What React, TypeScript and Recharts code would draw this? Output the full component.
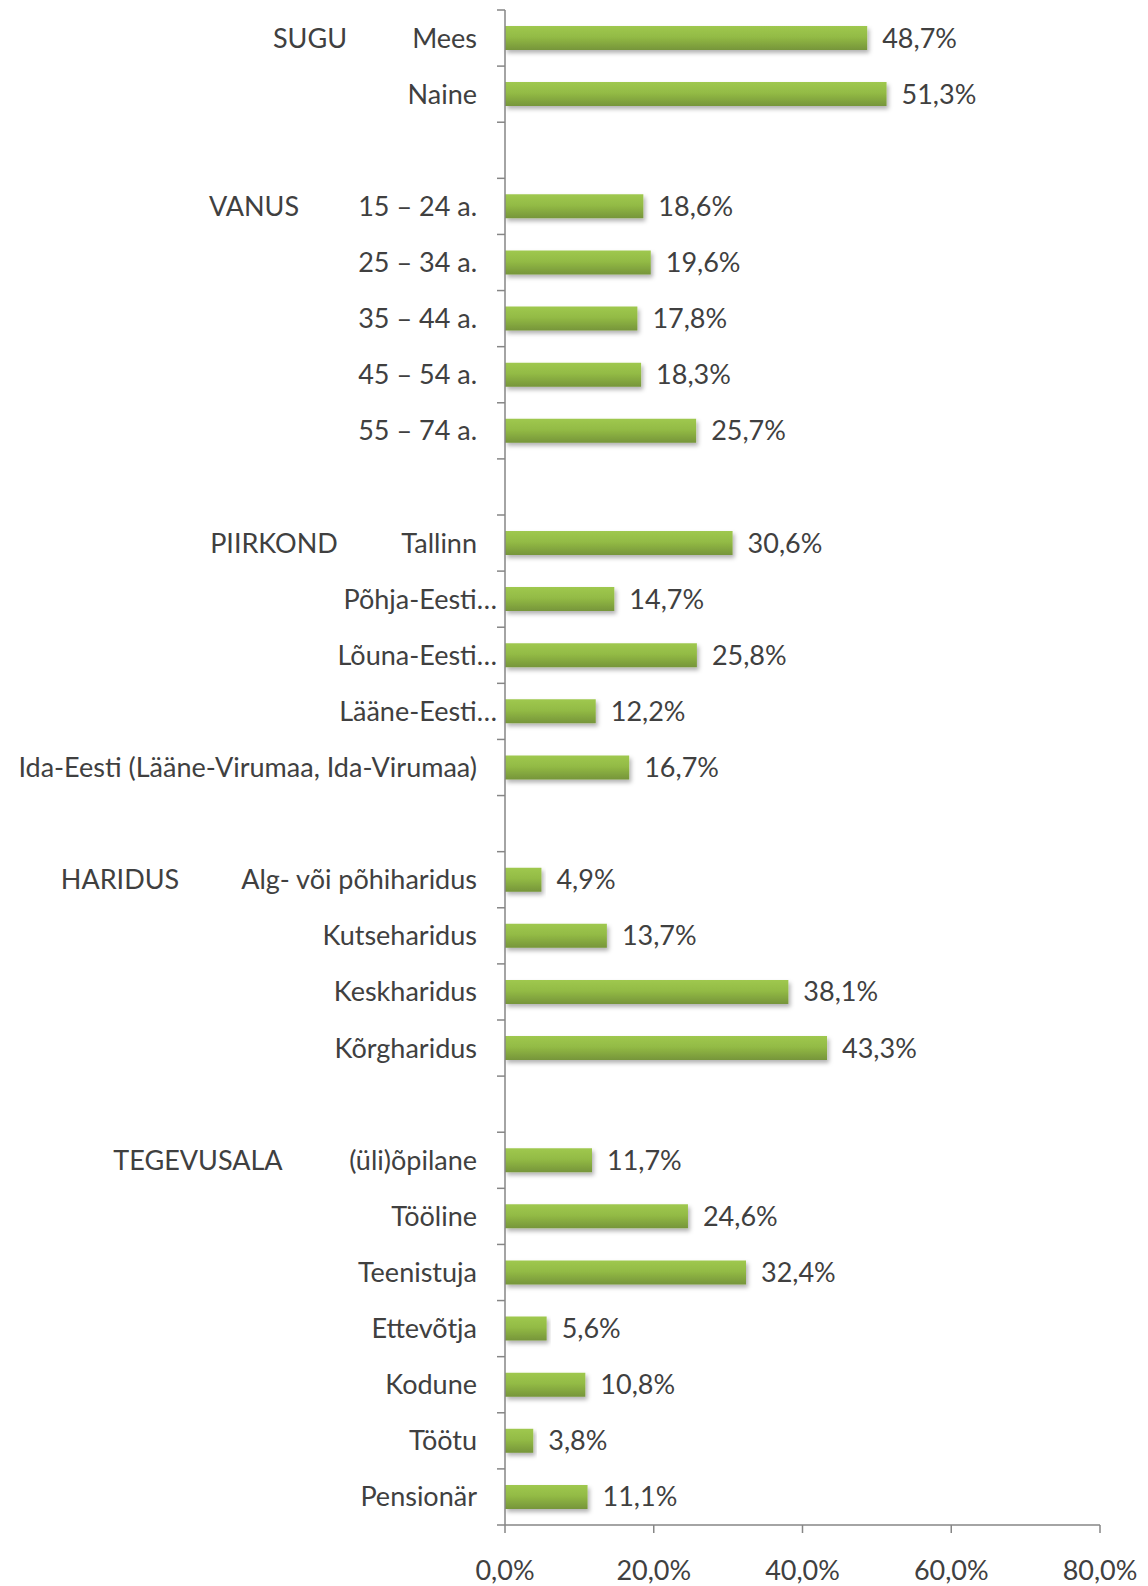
import { Bar, BarChart, LabelList, XAxis, YAxis } from "recharts";

const groupNames = ["SUGU", "VANUS", "PIIRKOND", "HARIDUS", "TEGEVUSALA"];

const groupItems = [
  ["Mees", "Naine"],
  ["15 – 24 a.", "25 – 34 a.", "35 – 44 a.", "45 – 54 a.", "55 – 74 a."],
  ["Tallinn", "Põhja-Eesti…", "Lõuna-Eesti…", "Lääne-Eesti…", "Ida-Eesti (Lääne-Virumaa, Ida-Virumaa)"],
  ["Alg- või põhiharidus", "Kutseharidus", "Keskharidus", "Kõrgharidus"],
  ["(üli)õpilane", "Tööline", "Teenistuja", "Ettevõtja", "Kodune", "Töötu", "Pensionär"]
];

const groupValues = [
  [48.7, 51.3],
  [18.6, 19.6, 17.8, 18.3, 25.7],
  [30.6, 14.7, 25.8, 12.2, 16.7],
  [4.9, 13.7, 38.1, 43.3],
  [11.7, 24.6, 32.4, 5.6, 10.8, 3.8, 11.1]
];

const xTicks = [0, 20, 40, 60, 80];

// group label centre x (Excel places them a bit oddly)
const groupLabelX: Record<string, number> = {
  SUGU: 310,
  VANUS: 254,
  PIIRKOND: 274,
  HARIDUS: 120,
  TEGEVUSALA: 198
};

type Row = { id: string; label: string; group: string; value: number | null };

const rows: Row[] = [];
groupNames.forEach((g, gi) => {
  groupItems[gi].forEach((label, i) => {
    rows.push({ id: `${gi}-${i}`, label, group: i === 0 ? g : "", value: groupValues[gi][i] });
  });
  if (gi < groupNames.length - 1) {
    rows.push({ id: `${gi}-gap`, label: "", group: "", value: null });
  }
});

const W = 1148;
const H = 1586;
const MARGIN = { top: 10, right: 48, left: 0, bottom: 0 };
const Y_AXIS_W = 505;
const X_AXIS_H = 61;
const AXIS_X = MARGIN.left + Y_AXIS_W;
const BAND = (H - MARGIN.top - MARGIN.bottom - X_AXIS_H) / rows.length;

const FONT = "Lato, 'Open Sans', sans-serif";
const FS = 27;
const TEXT = "#404040";
const AXIS = "#868686";

const fmt = (v: number) => `${v.toFixed(1).replace(".", ",")}%`;

const CategoryTick = (props: any) => {
  const { y, index, payload } = props;
  const row = rows[index] ?? rows.find((r) => r.id === payload.value);
  const truncated = row && row.label.endsWith("…");
  return (
    <g>
      <line x1={AXIS_X - 8} x2={AXIS_X} y1={y - BAND / 2} y2={y - BAND / 2} stroke={AXIS} strokeWidth={1.5} />
      {index === rows.length - 1 && (
        <line x1={AXIS_X - 8} x2={AXIS_X} y1={y + BAND / 2} y2={y + BAND / 2} stroke={AXIS} strokeWidth={1.5} />
      )}
      {row && row.label && (
        <text
          x={AXIS_X - (truncated ? 8 : 28)}
          y={y}
          dy="0.35em"
          textAnchor="end"
          fill={TEXT}
          fontSize={FS}
          fontFamily={FONT}
        >
          {row.label}
        </text>
      )}
      {row && row.group && (
        <text x={groupLabelX[row.group]} y={y} dy="0.35em" textAnchor="middle" fill={TEXT} fontSize={FS} fontFamily={FONT}>
          {row.group}
        </text>
      )}
    </g>
  );
};

const App = () => {
  return (
    <div style={{ position: "absolute", left: 0, top: 0, width: W, height: H, background: "#fff" }}>
      <BarChart width={W} height={H} data={rows} layout="vertical" margin={MARGIN}>
        <defs>
          <linearGradient id="barGreen" x1="0" y1="0" x2="0" y2="1">
            <stop offset="0%" stopColor="#9fc84f" />
            <stop offset="45%" stopColor="#93bb45" />
            <stop offset="100%" stopColor="#76953a" />
          </linearGradient>
          <filter id="barShadow" x="-5%" y="-20%" width="115%" height="160%">
            <feDropShadow dx="2" dy="3" stdDeviation="2" floodColor="#000" floodOpacity="0.3" />
          </filter>
        </defs>
        <XAxis
          type="number"
          domain={[0, 80]}
          ticks={xTicks}
          tickFormatter={fmt}
          height={X_AXIS_H}
          tickSize={8}
          tickMargin={28}
          stroke={AXIS}
          strokeWidth={1.5}
          tick={{ fill: TEXT, fontSize: FS, fontFamily: FONT }}
        />
        <YAxis
          type="category"
          dataKey="id"
          width={Y_AXIS_W}
          tickLine={false}
          stroke={AXIS}
          strokeWidth={1.5}
          interval={0}
          tick={<CategoryTick />}
        />
        <Bar dataKey="value" barSize={24} fill="url(#barGreen)" filter="url(#barShadow)" isAnimationActive={false}>
          <LabelList
            dataKey="value"
            position="right"
            offset={15}
            formatter={(v: any) => (v == null ? "" : fmt(Number(v)))}
            fill={TEXT}
            fontSize={FS}
            fontFamily={FONT}
          />
        </Bar>
      </BarChart>
    </div>
  );
};

export default App;
